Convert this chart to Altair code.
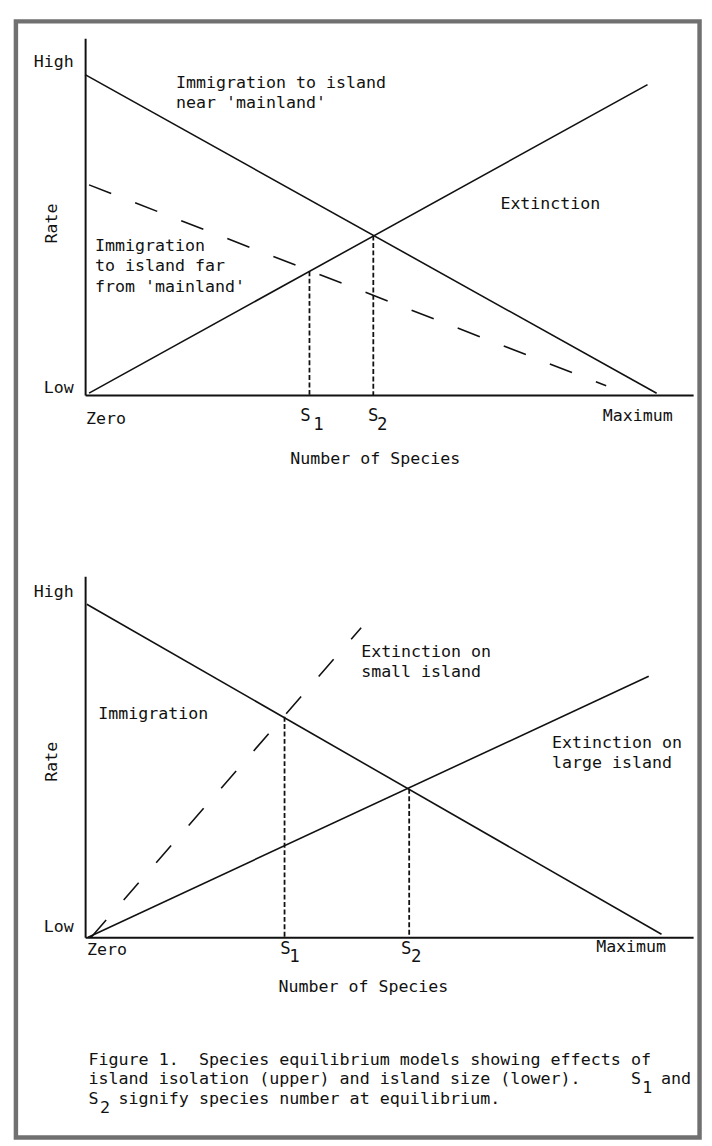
import altair as alt
import pandas as pd

FONT = "DejaVu Sans Mono"
FS = 16.8
INK = "#111111"

# ---------------- upper panel: island isolation ----------------
up_near_x = [0.0, 94.0]
up_near_y = [89.8, 0.5]
up_ext_x = [0.65, 92.5]
up_ext_y = [0.55, 87.0]
up_far_x = [0.65, 85.7]
up_far_y = [58.9, 2.6]
up_eq_x = [36.9, 47.4]
up_eq_y = [34.7, 44.7]
up_lowhigh = [2.0, 93.35]
up_text = ["Immigration to island", "near 'mainland'", "Extinction",
           "Immigration", "to island far", "from 'mainland'"]
up_text_x = [14.96, 14.96, 68.3, 1.63, 1.63, 1.63]
up_text_y = [85.96, 80.4, 52.1, 40.4, 34.7, 29.0]
up_max_x = 90.9

# ---------------- lower panel: island size ----------------
lo_imm_x = [0.28, 94.8]
lo_imm_y = [92.25, 0.8]
lo_large_x = [0.5, 92.7]
lo_large_y = [0.0, 72.3]
lo_small_x = [1.0, 45.4]
lo_small_y = [0.0, 85.75]
lo_eq_x = [32.8, 53.3]
lo_eq_y = [61.1, 41.1]
lo_lowhigh = [2.9, 95.75]
lo_text = ["Immigration", "Extinction on", "small island",
           "Extinction on", "large island"]
lo_text_x = [2.16, 45.4, 45.4, 76.8, 76.8]
lo_text_y = [60.5, 77.6, 72.1, 52.5, 47.0]
lo_max_x = 89.8

# ---------------- caption (typewriter columns / rows) ----------------
NB = "\u00a0"
cap_seg_text = [
    "Figure 1.  Species equilibrium models showing effects of",
    "island isolation (upper) and island size (lower).     S",
    "and",
    "S",
    "signify species number at equilibrium.",
]
cap_seg_col = [0, 0, 57, 0, 3]
cap_seg_row = [0, 1, 1, 2, 2]
cap_sub_text = ["1", "2"]
cap_sub_col = [55, 1]
cap_sub_row = [1, 2]


def encs(lowhigh, title_x, title_y, rate_y):
    xaxis = alt.Axis(title="Number of Species", labels=False, ticks=False, grid=False,
                     domainColor=INK, domainWidth=2,
                     titleFont=FONT, titleFontSize=FS, titleFontWeight="normal",
                     titleColor=INK, titleX=title_x, titleY=title_y,
                     titleBaseline="alphabetic", titleAlign="center")
    yaxis = alt.Axis(title="Rate", values=lowhigh,
                     labelExpr="datum.value > 50 ? 'High' : 'Low'",
                     ticks=False, grid=False, domainColor=INK, domainWidth=2,
                     labelFont=FONT, labelFontSize=FS, labelColor=INK,
                     labelPadding=12, labelBaseline="middle",
                     titleFont=FONT, titleFontSize=FS, titleFontWeight="normal",
                     titleColor=INK, titleX=-34, titleY=rate_y, titleAngle=270,
                     titleBaseline="middle", titleAlign="center")
    X = alt.X("x:Q", scale=alt.Scale(domain=[0, 100], nice=False, zero=False), axis=xaxis)
    Y = alt.Y("y:Q", scale=alt.Scale(domain=[0, 100], nice=False, zero=False), axis=yaxis)
    return X, Y


def line(xs, ys, X, Y, dash=None):
    kw = dict(color=INK, strokeWidth=1.6)
    if dash:
        kw["strokeDash"] = dash
    return alt.Chart(pd.DataFrame({"x": xs, "y": ys})).mark_line(**kw).encode(x=X, y=Y)


def vrules(xs, ys, X, Y):
    df = pd.DataFrame({"x": xs, "y": ys, "y0": [0] * len(xs)})
    return alt.Chart(df).mark_rule(color=INK, strokeWidth=1.8, strokeDash=[5, 2.5]).encode(
        x=X, y=Y, y2="y0:Q")


def texts(ts, xs, ys, X, Y):
    df = pd.DataFrame({"x": xs, "y": ys, "t": ts})
    return alt.Chart(df).mark_text(align="left", baseline="alphabetic", font=FONT,
                                   fontSize=FS, color=INK).encode(x=X, y=Y, text="t:N")


def label(x, t, X, Y, align, dx, dy, size=FS):
    df = pd.DataFrame({"x": [x], "y": [0], "t": [t]})
    return alt.Chart(df).mark_text(align=align, baseline="alphabetic", dx=dx, dy=dy,
                                   font=FONT, fontSize=size, color=INK).encode(
        x=X, y=Y, text="t:N")


# ----- upper chart -----
UX, UY = encs(up_lowhigh, 293, 69.5, 187)
frame = alt.Chart(pd.DataFrame({"k": [0]})).mark_rect(
    fillOpacity=0, stroke="#707070", strokeWidth=4.5).encode(
    x=alt.value(-70), x2=alt.value(621.5), y=alt.value(-17), y2=alt.value(1112))

upper = alt.layer(
    frame,
    line(up_near_x, up_near_y, UX, UY),
    line(up_ext_x, up_ext_y, UX, UY),
    line(up_far_x, up_far_y, UX, UY, dash=[24, 26]),
    vrules(up_eq_x, up_eq_y, UX, UY),
    texts(up_text, up_text_x, up_text_y, UX, UY),
    label(0, "Zero", UX, UY, "left", 1, 29),
    label(up_max_x, "Maximum", UX, UY, "center", 0, 26),
    label(up_eq_x[0], "S", UX, UY, "center", -4, 26, 17.5),
    label(up_eq_x[0], "1", UX, UY, "center", 9, 35, 17.5),
    label(up_eq_x[1], "S", UX, UY, "center", 0, 26, 17.5),
    label(up_eq_x[1], "2", UX, UY, "center", 9, 35, 17.5),
).properties(width=615, height=361)

# ----- lower chart -----
LX, LY = encs(lo_lowhigh, 281, 54.5, 187)
lower_main = alt.layer(
    line(lo_imm_x, lo_imm_y, LX, LY),
    line(lo_large_x, lo_large_y, LX, LY),
    line(lo_small_x, lo_small_y, LX, LY, dash=[23, 27]),
    vrules(lo_eq_x, lo_eq_y, LX, LY),
    texts(lo_text, lo_text_x, lo_text_y, LX, LY),
    label(0, "Zero", LX, LY, "left", 2, 18.5),
    label(lo_max_x, "Maximum", LX, LY, "center", 0, 15),
    label(lo_eq_x[0], "S", LX, LY, "center", 1, 17, 17.5),
    label(lo_eq_x[0], "1", LX, LY, "center", 10, 25, 17.5),
    label(lo_eq_x[1], "S", LX, LY, "center", -3, 17, 17.5),
    label(lo_eq_x[1], "2", LX, LY, "center", 7, 25, 17.5),
)

ADV = 10.16
CX = alt.X("col:Q", scale=alt.Scale(domain=[0, 60], range=[3.3, 3.3 + 60 * ADV], nice=False, zero=False), axis=None)
CY = alt.Y("row:Q", scale=alt.Scale(domain=[0, 2], range=[494, 534], nice=False, zero=False), axis=None)
cap_df = pd.DataFrame({"col": cap_seg_col, "row": cap_seg_row,
                       "t": [s.replace(" ", NB) for s in cap_seg_text]})
sub_df = pd.DataFrame({"col": cap_sub_col, "row": cap_sub_row, "t": cap_sub_text})
caption = alt.layer(
    alt.Chart(cap_df).mark_text(align="left", baseline="alphabetic", font=FONT,
                                fontSize=16.9, color=INK).encode(x=CX, y=CY, text="t:N"),
    alt.Chart(sub_df).mark_text(align="left", baseline="alphabetic", dx=1.5, dy=9, font=FONT,
                                fontSize=16.9, color=INK).encode(x=CX, y=CY, text="t:N"),
)

lower = alt.layer(lower_main, caption).resolve_scale(
    x="independent", y="independent").properties(width=615, height=365)

chart = alt.vconcat(upper, lower, spacing=183.3, bounds="flush").properties(
    padding={"left": 5, "top": 4, "right": 2, "bottom": 0},
    background="white",
).configure_view(stroke=None)

chart.save("out.html", embed_options={"renderer": "svg", "actions": False})
